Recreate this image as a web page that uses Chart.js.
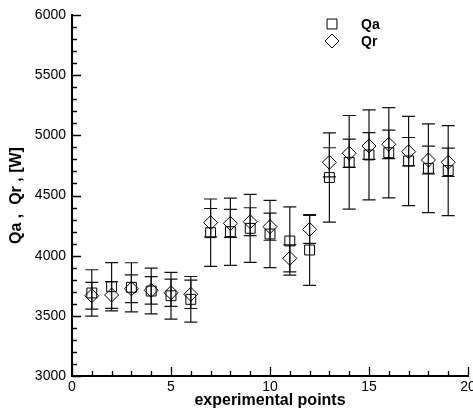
<!DOCTYPE html>
<html>
<head>
<meta charset="utf-8">
<script src="https://cdn.jsdelivr.net/npm/chart.js@4.4.1/dist/chart.umd.min.js"></script>
<style>
  html, body { margin: 0; padding: 0; background: #fff; }
  #wrap { width: 473px; height: 414px; position: relative; }
</style>
</head>
<body>
<div id="wrap"><canvas id="chart"></canvas></div>
<script>
// experimental points 1..19
const points = [1, 2, 3, 4, 5, 6, 7, 8, 9, 10, 11, 12, 13, 14, 15, 16, 17, 18, 19];
const qa = [3690, 3742, 3737, 3706, 3667, 3637, 4191, 4199, 4227, 4180, 4122, 4047, 4649, 4776, 4837, 4856, 4787, 4726, 4707];
const qaErr = [193, 201, 204, 190, 194, 190, 280, 280, 283, 280, 283, 294, 371, 389, 374, 375, 371, 369, 374];
const qr = [3667, 3673, 3725, 3712, 3692, 3679, 4274, 4268, 4282, 4241, 3978, 4218, 4776, 4851, 4911, 4925, 4864, 4795, 4776];
const qrErr = [111, 111, 115, 114, 113, 118, 118, 116, 116, 113, 112, 116, 121, 117, 111, 118, 118, 116, 118];

const seriesNames = ['Qa', 'Qr'];
const xTitle = 'experimental points';
const yTitle = 'Qa ,  Qr , [W]';

const FONT = 'Liberation Sans, Arial, Helvetica, sans-serif';
const errs = [qaErr, qrErr];

const errorBarPlugin = {
    id: 'errorBars',
    beforeDatasetsDraw(chart) {
        const { ctx: c, scales: { y } } = chart;
        c.save();
        c.strokeStyle = '#111';
        c.lineWidth = 1.2;
        chart.data.datasets.forEach((ds, di) => {
            const meta = chart.getDatasetMeta(di);
            meta.data.forEach((pt, i) => {
                const v = ds.data[i].y;
                const e = errs[di][i];
                const top = y.getPixelForValue(v + e);
                const bot = y.getPixelForValue(v - e);
                const hw = 6.5;
                c.beginPath();
                c.moveTo(pt.x, top);
                c.lineTo(pt.x, bot);
                c.moveTo(pt.x - hw, top);
                c.lineTo(pt.x + hw, top);
                c.moveTo(pt.x - hw, bot);
                c.lineTo(pt.x + hw, bot);
                c.stroke();
            });
        });
        c.restore();
    },
};

// inward ticks, major + minor, titles and legend
const inwardTicks = {
    id: 'inwardTicks',
    afterDraw(chart) {
        const { ctx: c, chartArea: a, scales: { x, y } } = chart;
        c.save();
        c.strokeStyle = '#000';
        c.lineWidth = 1.3;
        c.beginPath();
        x.ticks.forEach(t => {
            const px = Math.round(x.getPixelForValue(t.value)) + 0.5;
            const len = t.value % 5 === 0 ? 9 : 5;
            c.moveTo(px, a.bottom);
            c.lineTo(px, a.bottom - len);
        });
        y.ticks.forEach(t => {
            const py = Math.round(y.getPixelForValue(t.value)) + 0.5;
            const len = t.value % 500 === 0 ? 9 : 5;
            c.moveTo(a.left, py);
            c.lineTo(a.left + len, py);
        });
        c.stroke();

        c.fillStyle = '#000';
        c.font = 'bold 16px ' + FONT;
        c.textAlign = 'center';
        c.textBaseline = 'middle';
        c.fillText(xTitle, (a.left + a.right) / 2, 401);
        c.save();
        c.translate(17, (a.top + a.bottom) / 2);
        c.rotate(-Math.PI / 2);
        c.fillText(yTitle, 0, 0);
        c.restore();

        // legend
        c.font = 'bold 14px ' + FONT;
        c.textAlign = 'left';
        chart.data.datasets.forEach((ds, i) => {
            const ly = 24 + i * 17;
            c.fillStyle = 'rgba(0,0,0,0)';
            c.strokeStyle = '#000';
            c.lineWidth = 1;
            Chart.helpers.drawPoint(c, {
                pointStyle: ds.pointStyle,
                radius: ds.pointRadius,
                borderWidth: 1,
            }, 332, ly);
            c.fillStyle = '#000';
            c.fillText(seriesNames[i], 361, ly + 1);
        });
        c.restore();
    },
};

new Chart(document.getElementById('chart'), {
    type: 'scatter',
    data: {
        datasets: [
            {
                label: seriesNames[0],
                data: points.map((p, i) => ({ x: p, y: qa[i] })),
                pointStyle: 'rect',
                pointRadius: 7,
                pointBorderWidth: 1,
                borderColor: '#000',
                backgroundColor: 'rgba(0,0,0,0)',
            },
            {
                label: seriesNames[1],
                data: points.map((p, i) => ({ x: p, y: qr[i] })),
                pointStyle: 'rectRot',
                pointRadius: 7,
                pointBorderWidth: 1,
                borderColor: '#000',
                backgroundColor: 'rgba(0,0,0,0)',
            },
        ],
    },
    plugins: [errorBarPlugin, inwardTicks],
    options: {
        responsive: true,
        maintainAspectRatio: false,
        animation: false,
        layout: { autoPadding: false, padding: { top: 15, right: 5, left: 0, bottom: 0 } },
        plugins: { legend: { display: false }, tooltip: { enabled: false } },
        scales: {
            x: {
                type: 'linear',
                min: 0,
                max: 20,
                afterFit: s => {
                    s.height = 38;
                    s.paddingLeft = 0;
                    s.paddingRight = 0;
                },
                grid: { display: false, drawTicks: false },
                border: { display: true, color: '#000', width: 2 },
                ticks: {
                    stepSize: 1,
                    autoSkip: false,
                    maxRotation: 0,
                    padding: 3,
                    color: '#000',
                    font: { family: FONT, size: 14 },
                    callback: v => (v % 5 === 0 ? String(v) : ''),
                },
            },
            y: {
                min: 3000,
                max: 6000,
                afterFit: s => {
                    s.width = 72;
                    s.paddingTop = 0;
                    s.paddingBottom = 0;
                },
                grid: { display: false, drawTicks: false },
                border: { display: true, color: '#000', width: 2 },
                ticks: {
                    stepSize: 100,
                    autoSkip: false,
                    padding: 6,
                    color: '#000',
                    font: { family: FONT, size: 14 },
                    callback: v => (v % 500 === 0 ? String(v) : ''),
                },
            },
        },
    },
});
</script>
</body>
</html>
